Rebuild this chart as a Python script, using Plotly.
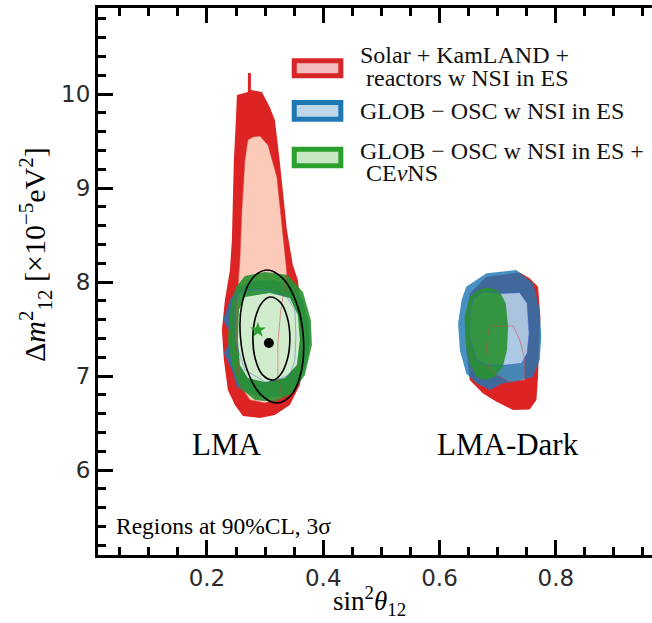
import plotly.graph_objects as go

# ---------------- data ----------------
# LMA solution, Solar + KamLAND + reactors (3 sigma / 90% CL)
red3_lma_x = [0.272, 0.2756, 0.2756, 0.2945, 0.308, 0.3168, 0.325, 0.3323, 0.3375, 0.3478, 0.3564, 0.3632,
              0.3684, 0.3598, 0.3426, 0.3168, 0.2912, 0.2618, 0.2481, 0.2360, 0.2291, 0.2257, 0.2309, 0.2395,
              0.2429, 0.2446, 0.2463, 0.2498, 0.2515, 0.2704, 0.2704]
red3_lma_y = [10.223, 10.223, 10.043, 10.021, 9.862, 9.723, 9.298, 8.872, 8.553, 8.181, 8.021, 7.596,
              7.17, 6.904, 6.691, 6.585, 6.553, 6.574, 6.691, 6.851, 7.17, 7.489, 7.809, 8.128,
              8.447, 8.872, 9.298, 9.723, 9.989, 10.021, 10.223]
red90_lma_x = [0.2704, 0.279, 0.2911, 0.3049, 0.3203, 0.3289, 0.3375, 0.327, 0.322, 0.322, 0.329, 0.2997,
               0.2739, 0.2567, 0.2515, 0.2515, 0.2567, 0.2601, 0.2653]
red90_lma_y = [9.511, 9.543, 9.553, 9.457, 9.117, 8.585, 8.096, 7.702, 7.351, 7.01, 6.766, 6.713,
               6.745, 6.904, 7.277, 7.809, 8.234, 8.766, 9.298]
# LMA-Dark, Solar + KamLAND + reactors
red3_dark_x = [0.652, 0.681, 0.738, 0.755, 0.7695, 0.7735, 0.771, 0.7695, 0.7667, 0.755, 0.7265, 0.698,
               0.675, 0.652, 0.646, 0.646]
red3_dark_y = [7.879, 8.057, 8.10, 8.039, 7.95, 7.631, 7.277, 6.993, 6.745, 6.645, 6.638, 6.727,
               6.815, 6.957, 7.277, 7.631]
red90_dark_x = [0.6864, 0.7265, 0.738, 0.7466, 0.7466, 0.7208, 0.698, 0.6835, 0.681, 0.6835]
red90_dark_y = [7.532, 7.532, 7.383, 7.17, 6.957, 6.94, 7.011, 7.10, 7.312, 7.454]

# GLOB-OSC w NSI in ES
blue3_lma_x = [0.2532, 0.2825, 0.3168, 0.3461, 0.3651, 0.3736, 0.377, 0.3702, 0.3564, 0.334, 0.2997, 0.2653,
               0.2515, 0.2429, 0.2291, 0.2446, 0.2274, 0.2395]
blue3_lma_y = [7.947, 8.011, 8.021, 7.968, 7.809, 7.596, 7.383, 7.117, 6.904, 6.798, 6.766, 6.83,
               6.883, 7.064, 7.245, 7.415, 7.596, 7.809]
blue90_lma_x = [0.2515, 0.2739, 0.3031, 0.3375, 0.3512, 0.353, 0.3512, 0.3426, 0.3031, 0.2653, 0.2481, 0.2481]
blue90_lma_y = [7.883, 7.915, 7.915, 7.84, 7.702, 7.436, 7.17, 7.01, 6.926, 7.064, 7.383, 7.702]
blue3_dark_x = [0.646, 0.681, 0.732, 0.761, 0.7724, 0.775, 0.7724, 0.761, 0.732, 0.709, 0.6864, 0.6636,
                0.646, 0.635, 0.632, 0.638]
blue3_dark_y = [7.95, 8.093, 8.128, 7.986, 7.702, 7.418, 7.17, 6.993, 6.94, 6.922, 6.851, 6.922,
                7.028, 7.277, 7.56, 7.809]
blue90_dark_x = [0.658, 0.675, 0.709, 0.738, 0.7506, 0.754, 0.7506, 0.741, 0.715, 0.681, 0.6636, 0.652, 0.652]
blue90_dark_y = [7.809, 7.897, 7.879, 7.886, 7.773, 7.454, 7.241, 7.135, 7.117, 7.117, 7.17, 7.418, 7.631]

# GLOB-OSC w NSI in ES + CEvNS
green3_lma_x = [0.2653, 0.2997, 0.3392, 0.3651, 0.3787, 0.3805, 0.3684, 0.3478, 0.3168, 0.2825, 0.2567,
                0.2429, 0.236, 0.2412, 0.2498]
green3_lma_y = [8.064, 8.106, 8.074, 7.894, 7.596, 7.33, 7.01, 6.819, 6.723, 6.745, 6.872,
                7.117, 7.383, 7.755, 7.947]
green90_lma_x = [0.2653, 0.308, 0.3426, 0.3564, 0.3598, 0.3547, 0.334, 0.2997, 0.2704, 0.2567, 0.2532, 0.255]
green90_lma_y = [7.84, 7.883, 7.83, 7.649, 7.383, 7.117, 6.979, 6.936, 6.979, 7.117, 7.383, 7.702]
green3_dark_x = [0.652, 0.669, 0.6864, 0.7036, 0.714, 0.718, 0.716, 0.709, 0.695, 0.678, 0.6636, 0.652,
                 0.645, 0.643]
green3_dark_y = [7.844, 7.922, 7.943, 7.897, 7.773, 7.525, 7.277, 7.10, 6.993, 6.957, 6.993, 7.135,
                 7.348, 7.631]

# black reference contours (two ellipses) and best-fit points
ell_outer_x = [0.3031, 0.3313, 0.3543, 0.3658, 0.3629, 0.3461, 0.3203, 0.2919, 0.269, 0.2575, 0.2604, 0.2773]
ell_outer_y = [8.128, 8.033, 7.773, 7.42, 7.067, 6.807, 6.713, 6.807, 7.067, 7.42, 7.773, 8.033]
ell_inner_x = [0.3082, 0.3267, 0.3383, 0.3426, 0.3383, 0.3267, 0.3134, 0.2949, 0.2833, 0.279, 0.2833, 0.2949]
ell_inner_y = [7.84, 7.781, 7.62, 7.399, 7.178, 7.017, 6.957, 7.017, 7.178, 7.399, 7.62, 7.781]
bestfit_dot = ([0.3065], [7.351])
bestfit_star = ([0.2876], [7.489])

x_ticks = [0.2, 0.4, 0.6, 0.8]
y_ticks = [6, 7, 8, 9, 10]
legend_labels = ["Solar + KamLAND +", " reactors w NSI in ES", "GLOB − OSC w NSI in ES",
                 "GLOB − OSC w NSI in ES +", " CE<i>ν</i>NS"]

# ---------------- styles ----------------
RED = "#dc2424"
SALMON = "#fbcab8"
BLUE = "rgba(31,119,180,0.82)"
LBLUE = "rgba(198,219,239,0.8)"
GREEN = "rgba(40,145,48,0.9)"
LGREEN = "rgba(215,238,210,0.97)"
SERIF = "Liberation Serif"

fig = go.Figure()


def poly(x, y, fill):
    fig.add_trace(go.Scatter(x=x + x[:1], y=y + y[:1], mode="lines", fill="toself",
                             fillcolor=fill, line=dict(width=0), hoverinfo="skip", showlegend=False))


def outline(x, y, color, width=1.0, shape="linear"):
    fig.add_trace(go.Scatter(x=x + x[:1], y=y + y[:1], mode="lines",
                             line=dict(color=color, width=width, shape=shape),
                             hoverinfo="skip", showlegend=False))


poly(red3_lma_x, red3_lma_y, RED)
poly(red3_dark_x, red3_dark_y, RED)
poly(red90_lma_x, red90_lma_y, SALMON)
poly(red90_dark_x, red90_dark_y, SALMON)
poly(blue3_lma_x, blue3_lma_y, BLUE)
poly(blue3_dark_x, blue3_dark_y, BLUE)
poly(blue90_lma_x, blue90_lma_y, LBLUE)
poly(blue90_dark_x, blue90_dark_y, LBLUE)
poly(green3_lma_x, green3_lma_y, GREEN)
poly(green3_dark_x, green3_dark_y, GREEN)
poly(green90_lma_x, green90_lma_y, LGREEN)

outline(red90_lma_x, red90_lma_y, "rgba(220,60,60,0.5)", 1)
outline(red90_dark_x, red90_dark_y, "rgba(220,60,60,0.5)", 1)
outline(blue90_lma_x, blue90_lma_y, "rgba(60,90,220,0.45)", 1)
outline(blue90_dark_x, blue90_dark_y, "rgba(60,90,220,0.45)", 1)
outline(ell_outer_x, ell_outer_y, "black", 1.6, "spline")
outline(ell_inner_x, ell_inner_y, "black", 1.6, "spline")

fig.add_trace(go.Scatter(x=bestfit_dot[0], y=bestfit_dot[1], mode="markers",
                         marker=dict(color="black", size=10), hoverinfo="skip", showlegend=False))
fig.add_trace(go.Scatter(x=bestfit_star[0], y=bestfit_star[1], mode="markers",
                         marker=dict(color="#2ca02c", size=12, symbol="star"), hoverinfo="skip",
                         showlegend=False))

# ---------------- custom legend ----------------
legend_patches = [
    ("#d62728", "#f3bdbd", 0.876, 0.9035),
    ("#1f77b4", "#bdd6ea", 0.7967, 0.8272),
    ("#2ca02c", "#c8e7c4", 0.7115, 0.7419),
]
for border, inner, y0, y1 in legend_patches:
    fig.add_shape(type="rect", xref="paper", yref="paper", x0=0.3542, x1=0.4383, y0=y0, y1=y1,
                  line=dict(color=border, width=5), fillcolor=inner, layer="above")

legend_pos = [(0.4693, 0.914), (0.4693, 0.872), (0.4693, 0.812), (0.4693, 0.738), (0.4693, 0.699)]
for txt, (lx, ly) in zip(legend_labels, legend_pos):
    fig.add_annotation(x=lx, y=ly, xref="paper", yref="paper", text=txt, showarrow=False,
                       xanchor="left", yanchor="middle", font=dict(family=SERIF, size=24, color="#111"))

fig.add_annotation(x=0.235, y=6.27, text="LMA", showarrow=False,
                   font=dict(family=SERIF, size=31, color="black"))
fig.add_annotation(x=0.717, y=6.27, text="LMA-Dark", showarrow=False,
                   font=dict(family=SERIF, size=31, color="black"))
fig.add_annotation(x=0.04, y=5.4, text="Regions at 90%CL, 3σ", showarrow=False, xanchor="left",
                   font=dict(family=SERIF, size=23.5, color="black"))

# axis titles
fig.add_annotation(xref="paper", yref="paper", x=-0.114, y=0.55, textangle=-90,
                   xanchor="center", yanchor="middle",
                   text="Δ<i>m</i><sup>2</sup><sub>12</sub> [×10<sup>−5</sup>eV<sup>2</sup>]",
                   showarrow=False, font=dict(family=SERIF, size=30, color="black"))
fig.add_annotation(xref="paper", yref="paper", x=0.49, y=-0.085, xanchor="center", yanchor="middle",
                   text="sin<sup>2</sup><i>θ</i><sub>12</sub>",
                   showarrow=False, font=dict(family=SERIF, size=27, color="black"))

axis_common = dict(showgrid=False, zeroline=False, showline=True, linecolor="black", linewidth=3,
                   ticks="inside", ticklen=15, tickwidth=2.5, tickcolor="black",
                   tickfont=dict(family="DejaVu Sans", size=23, color="#2b2b2b"))
fig.update_xaxes(range=[0.0126, 0.9655], tickvals=x_ticks, ticktext=[f"{v:.1f}" for v in x_ticks],
                 mirror="ticks",
                 minor=dict(ticks="inside", ticklen=8, tickwidth=2.5, tickcolor="black", dtick=0.05,
                            tick0=0),
                 **axis_common)
fig.update_yaxes(range=[5.096, 10.915], tickvals=y_ticks, ticktext=[str(v) for v in y_ticks],
                 mirror=False,
                 minor=dict(ticks="inside", ticklen=8, tickwidth=2.5, tickcolor="black", dtick=0.2,
                            tick0=0),
                 **axis_common)

fig.update_layout(width=652, height=623, margin=dict(l=98, r=0, t=8, b=68),
                  plot_bgcolor="white", paper_bgcolor="white", showlegend=False)

fig.write_html("out.html")
